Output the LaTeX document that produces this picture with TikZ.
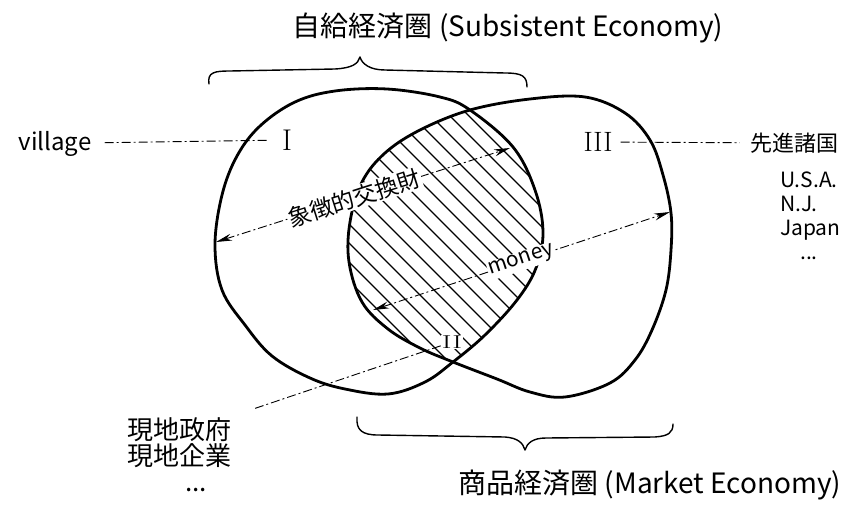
\documentclass[tikz,border=0pt]{standalone}
\usepackage{fontspec}
\newfontfamily\cjk{Noto Sans CJK JP}
\usetikzlibrary{arrows.meta}
\begin{document}
\begin{tikzpicture}[x=1pt,y=-1pt,
  circ/.style={line width=2.8pt, line join=round},
  hatchline/.style={line width=1.3pt},
  bracepath/.style={line width=1.4pt, line cap=round, line join=round},
  dd/.style={line width=0.9pt, dash pattern=on 9pt off 3pt on 2pt off 3pt},
  arr/.style={dd, {Stealth[length=16pt,width=7pt]}-{Stealth[length=16pt,width=7pt]}},
  cj/.style={font=\cjk\fontsize{#1}{#1}\selectfont, inner sep=1pt},
  rn/.style={font=\fontsize{#1}{#1}\selectfont, inner sep=1pt}
]
\useasboundingbox (0,0) rectangle (848,511);

% hatching of the overlap
\begin{scope}
  \clip plot[smooth cycle, tension=0.6] coordinates {(387,89) (440,97) (470,110) (513,147) (535,190) (543,232) (536,268) (517,300) (485,335) (453,362) (425,382) (388,394) (345,389) (310,378) (272,356) (245,325) (222,290) (215,245) (222,195) (237,156) (260,126) (295,102) (335,91)};
  \clip plot[smooth cycle, tension=0.6] coordinates {(585,97) (625,113) (650,140) (663,175) (671,213) (671,250) (666,290) (652,330) (635,360) (610,383) (565,397) (530,392) (497,379) (453,362) (420,348) (388,329) (362,302) (349,262) (350,222) (362,182) (385,153) (420,130) (470,110) (530,99)};
  \foreach \c in {30,49,...,390} \draw[hatchline] (\c+60,60) -- (\c+420,420);
\end{scope}

% label of the overlap (masks the hatching)
\node[rn=22, fill=white] (lII) at (452,342) {\scalebox{1.35}[0.85]{II}};

% subsistent economy (I)
\draw[circ] plot[smooth cycle, tension=0.6] coordinates {(387,89) (440,97) (470,110) (513,147) (535,190) (543,232) (536,268) (517,300) (485,335) (453,362) (425,382) (388,394) (345,389) (310,378) (272,356) (245,325) (222,290) (215,245) (222,195) (237,156) (260,126) (295,102) (335,91)};
% market economy (III)
\draw[circ] plot[smooth cycle, tension=0.6] coordinates {(585,97) (625,113) (650,140) (663,175) (671,213) (671,250) (666,290) (652,330) (635,360) (610,383) (565,397) (530,392) (497,379) (453,362) (420,348) (388,329) (362,302) (349,262) (350,222) (362,182) (385,153) (420,130) (470,110) (530,99)};

% braces
\draw[bracepath] (209,84) .. controls (207,72) and (215,71) .. (230,71) -- (335,69) .. controls (352,68) and (358,64) .. (360,57) .. controls (362,64) and (370,70) .. (385,70) -- (505,73) .. controls (522,73) and (527,76) .. (527,87);
\draw[bracepath] (357,417) .. controls (356,430) and (362,435) .. (378,435) -- (505,437) .. controls (518,438) and (523,443) .. (525,450) .. controls (527,443) and (533,438) .. (546,438) -- (655,437) .. controls (668,436) and (673,433) .. (673,424);

% titles
\node[cj=28] (top) at (508,28) {自給経済圏 (Subsistent Economy)};
\node[cj=28] (bottom) at (650,485) {商品経済圏 (Market Economy)};

% region labels
\node[rn=30] (lI) at (287,140) {I};
\node[rn=28] (lIII) at (598,142) {III};

% side texts
\node[cj=24, anchor=base] (village) at (55,150) {village};
\node[cj=22] (senshin) at (794,143) {先進諸国};
\node[font=\cjk\fontsize{21}{24}\selectfont, inner sep=1pt, align=left, anchor=north west] (countries) at (779,171) {U.S.A.\\N.J.\\Japan\\\hspace*{20pt}...};
\node[font=\cjk\fontsize{26}{26}\selectfont, inner sep=1pt, align=left, anchor=north west] (genchi) at (126,416) {現地政府\\現地企業\\\hspace*{58pt}...};

% connectors
\draw[dd, shorten <=12pt, shorten >=13pt] (village) -- (lI);
\draw[dd, shorten <=7pt, shorten >=9pt] (lIII) -- (senshin);
\draw[dd, shorten >=24pt] (lII) -- (genchi.north east);

% arrows through the spheres
\coordinate (sL) at (216,242);
\coordinate (sR) at (510,148);
\draw[arr] (sL) -- node[sloped, pos=0.47, cj=23, fill=white] (sym) {象徴的交換財} (sR);
\coordinate (mL) at (373,310);
\coordinate (mR) at (670,212);
\draw[arr] (mL) -- node[sloped, pos=0.5, cj=21, fill=white] (money) {money} (mR);
\end{tikzpicture}
\end{document}
